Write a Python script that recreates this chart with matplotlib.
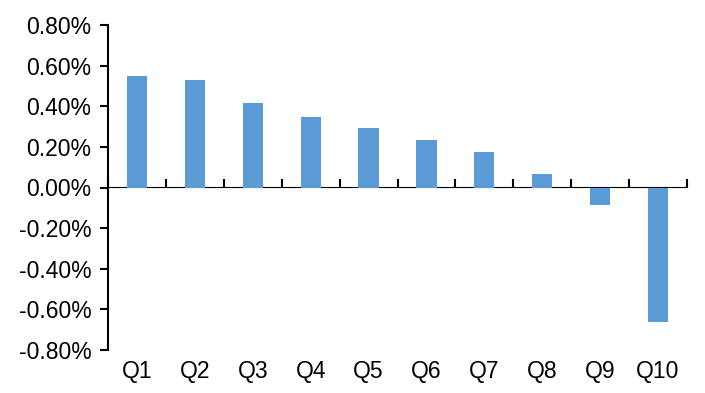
import matplotlib
matplotlib.use("Agg")
import matplotlib.pyplot as plt
from matplotlib.ticker import PercentFormatter
import numpy as np

categories = ["Q1", "Q2", "Q3", "Q4", "Q5", "Q6", "Q7", "Q8", "Q9", "Q10"]
values = [0.547, 0.528, 0.415, 0.347, 0.292, 0.233, 0.177, 0.066, -0.088, -0.663]
yticks = [-0.8, -0.6, -0.4, -0.2, 0.0, 0.2, 0.4, 0.6, 0.8]

plt.rcParams['font.family'] = ['Liberation Sans', 'DejaVu Sans']
plt.rcParams['axes.unicode_minus'] = False

fig = plt.figure(figsize=(7.05, 3.93), dpi=100)
ax = fig.add_axes([108/705, 1-350/393, (687-108)/705, (350-25)/393])

x = np.arange(len(categories))
ax.bar(x, values, width=0.35, color='#5B9BD5', zorder=2)

ax.set_xlim(-0.5, len(categories) - 0.5)
ax.set_ylim(-0.8, 0.8)
ax.set_yticks(yticks)
ax.yaxis.set_major_formatter(PercentFormatter(xmax=100, decimals=2))
ax.tick_params(axis='y', direction='out', length=6, width=1.5, labelsize=16.5, pad=6)

ax.set_xticks(x)
ax.set_xticklabels(categories)
ax.tick_params(axis='x', length=0, labelsize=16.5, pad=7)

for s in ['top', 'right', 'bottom']:
    ax.spines[s].set_visible(False)
ax.spines['left'].set_linewidth(1.5)

sec = ax.secondary_xaxis(0.5)
sec.set_xticks(np.arange(len(categories) + 1) - 0.5)
sec.set_xticklabels([])
sec.tick_params(axis='x', direction='out', length=6, width=1.5)
sec.spines['bottom'].set_linewidth(1.5)

fig.savefig("out.png", dpi=100)
